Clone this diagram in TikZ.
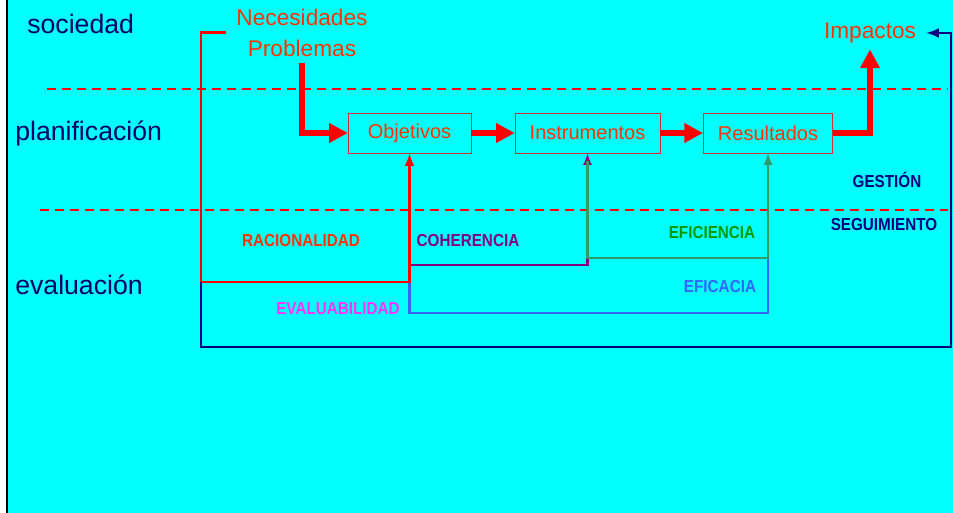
\documentclass[tikz,border=0pt]{standalone}
\usepackage{fontspec}
\setmainfont{Liberation Sans}
\newfontfamily\lblfont[FakeStretch=0.88]{Liberation Sans}
\usetikzlibrary{arrows.meta}

\definecolor{cian}{RGB}{0,255,255}
\definecolor{marino}{RGB}{0,0,102}
\definecolor{navy}{RGB}{0,0,128}
\definecolor{naranja}{RGB}{255,51,0}
\definecolor{caja}{RGB}{204,51,51}
\definecolor{morado}{RGB}{128,0,128}
\definecolor{verde}{RGB}{51,153,102}
\definecolor{verdetxt}{RGB}{0,153,0}
\definecolor{azul}{RGB}{51,102,255}
\definecolor{rosa}{RGB}{255,51,255}

\tikzset{
	etapa/.style={text=marino, anchor=west, inner sep=0pt, font=\fontsize{20}{24}\selectfont},
	titulo/.style={text=naranja, align=center, inner xsep=7.5pt, inner ysep=4.5pt, font=\fontsize{17}{23.25}\selectfont},
	paso/.style={draw=caja, text=naranja, minimum height=30pt, inner xsep=11pt, font=\fontsize{15}{18}\selectfont},
	lbl/.style={inner sep=0pt, font=\lblfont\bfseries\fontsize{13}{15}\selectfont},
	grueso/.style={red, line width=4.5pt, -{Triangle[length=14pt,width=14pt]}},
	rayas/.style={red, line width=1.5pt, dash pattern=on 6.75pt off 4.5pt}
}

\begin{document}
\begin{tikzpicture}[x=0.75pt, y=-0.75pt]
\useasboundingbox (0,0) rectangle (953,513);
\fill[white] (0,0) rectangle (953,513);
\fill[cian] (8,0) rectangle (953,513);
\draw[line width=2pt] (7,0) -- (7,513);

\draw[rayas] (47,89) -- (948,89);
\draw[rayas] (40,210) -- (948,210);

\node[etapa] (S) at (27,24) {sociedad};
\node[etapa] (P) at (15,133) {planificación};
\node[etapa] (E) at (15,285) {evaluación};

\node[titulo] (Nec) at (302,32.5) {Necesidades\\Problemas};
\node[titulo] (Imp) at (870,33) {Impactos};

\node[paso, minimum width=92pt] (Obj) at (409.5,133) {Objetivos};
\node[paso] (Ins) at (587.5,133) {Instrumentos};
\node[paso] (Res) at (768,133) {Resultados};

\coordinate (a) at (201,282);

\draw[grueso] (Nec.south) |- (Obj.west);
\draw[grueso] (Obj) -- (Ins);
\draw[grueso] (Ins) -- (Res);
\draw[grueso] (Res.east) -| (Imp.south);

\draw[azul, line width=2pt] (Obj.south |- 0,265) |- (Res.south |- 0,313) -- (Res.south |- 0,258);
\draw[morado, line width=2pt, -latex] (Obj.south |- 0,265) -| (Ins.south);
\draw[verde, line width=2pt, -latex] (Ins.south) ++(0,8) -- (Ins.south |- 0,258) -| (Res.south);
\draw[red, line width=2.2pt, -latex] (Nec.west) -| (a) -| (Obj.south);
\draw[navy, line width=2.2pt, -latex] (a) |- (951,347) |- (Imp.east);

\node[lbl, text=naranja] (Rac) at (301,241) {RACIONALIDAD};
\node[lbl, text=morado] (Coh) at (468,241) {COHERENCIA};
\node[lbl, text=verdetxt] (Efi) at (712,233) {EFICIENCIA};
\node[lbl, text=azul] (Efa) at (720,287) {EFICACIA};
\node[lbl, text=rosa] (Eva) at (338,309) {EVALUABILIDAD};
\node[lbl, text=navy] (Ges) at (887,180) {GESTIÓN};
\node[lbl, text=navy] (Seg) at (884,225) {SEGUIMIENTO};
\end{tikzpicture}
\end{document}
